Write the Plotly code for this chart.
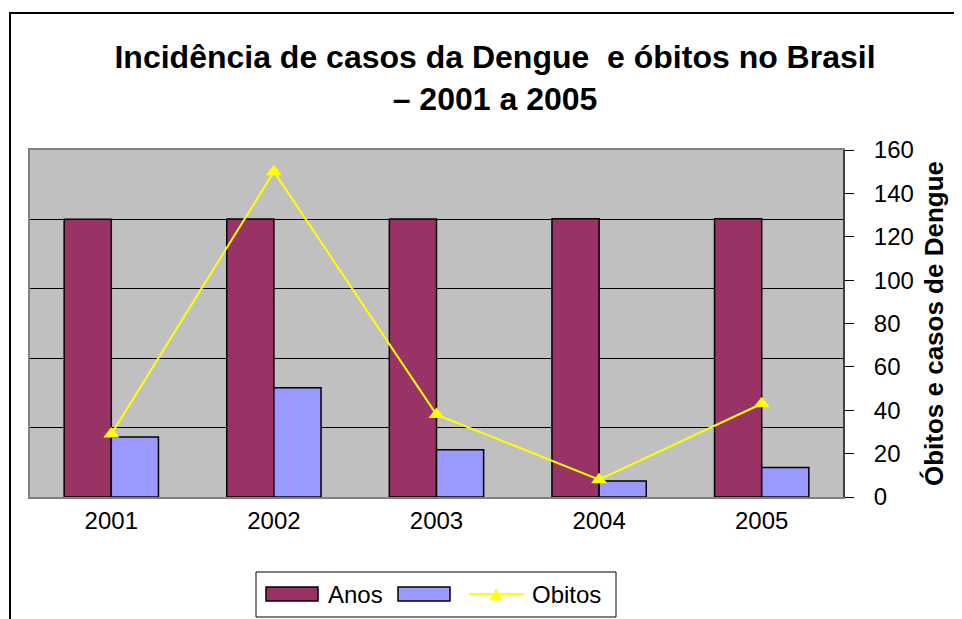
"""
Dengue incidence and deaths in Brazil, 2001-2005 (Excel-style combo chart).
"""

import plotly.graph_objects as go

# data
anos_labels = ['2001', '2002', '2003', '2004', '2005']
anos = [2001, 2002, 2003, 2004, 2005]           # series "Anos" (left axis)
casos = [433, 788, 341, 115, 213]               # dengue cases, thousands (left axis)
obitos = [29, 150, 38, 8, 43]                   # deaths (right axis)

font = 'Arial, Liberation Sans, sans-serif'

# plot area on the page in pixels: x 30..843, y 150..497
# (the page body adds an 8px offset, hence the margins below)
def px(x):
    return (x - 30) / 813

def py(y):
    return (497 - y) / 347


fig = go.Figure()
fig.add_trace(go.Bar(
    x=anos_labels, y=anos, name='Anos',
    marker=dict(color='#993366', line=dict(color='black', width=1.5)),
))
fig.add_trace(go.Bar(
    x=anos_labels, y=casos, name=' ',
    marker=dict(color='#9999FF', line=dict(color='black', width=1.5)),
))
fig.add_trace(go.Scatter(
    x=anos_labels, y=obitos, name='Obitos', yaxis='y2',
    mode='lines+markers',
    line=dict(color='#FFFF00', width=2),
    marker=dict(symbol='triangle-up', size=14, color='#FFFF00'),
))

# hand-drawn legend box (Excel style, wide swatches)
shapes = [
    dict(type='rect', x0=px(10), x1=px(990), y0=py(650), y1=py(13),
         line=dict(color='black', width=2)),
    dict(type='rect', x0=px(256), x1=px(616), y0=py(617), y1=py(572),
         line=dict(color='black', width=1), fillcolor='white'),
    dict(type='rect', x0=px(266), x1=px(318), y0=py(601), y1=py(587),
         line=dict(color='black', width=1.5), fillcolor='#993366'),
    dict(type='rect', x0=px(398), x1=px(450), y0=py(601), y1=py(587),
         line=dict(color='black', width=1.5), fillcolor='#9999FF'),
    dict(type='line', x0=px(469), x1=px(524), y0=py(594), y1=py(594),
         line=dict(color='#FFFF00', width=2)),
    dict(type='path',
         path=f'M {px(490)} {py(600)} L {px(502)} {py(600)} L {px(496)} {py(589)} Z',
         line=dict(color='#FFFF00', width=1), fillcolor='#FFFF00'),
]
for s in shapes:
    s.update(xref='paper', yref='paper')

annotations = [
    dict(text='Anos', x=px(326), y=py(594), xanchor='left', yanchor='middle',
         showarrow=False, font=dict(size=24)),
    dict(text='Obitos', x=px(530), y=py(594), xanchor='left', yanchor='middle',
         showarrow=False, font=dict(size=24)),
]
for a in annotations:
    a.update(xref='paper', yref='paper')

fig.update_layout(
    width=962, height=619,
    margin=dict(l=22, r=127, t=142, b=130),
    paper_bgcolor='white',
    plot_bgcolor='#C0C0C0',
    font=dict(family=font, color='black', size=24),
    barmode='group', bargap=0.42, bargroupgap=0,
    showlegend=False,
    title=dict(
        text='<b>Incidência de casos da Dengue  e óbitos no Brasil<br>– 2001 a 2005</b>',
        x=487 / 962, xanchor='center',
        y=1 - 60 / 619, yanchor='top',
        font=dict(family=font, size=32, color='black'),
    ),
    xaxis=dict(
        showgrid=False, ticks='', showline=True, linecolor='#808080', linewidth=2,
        mirror=True, tickfont=dict(size=24), ticklabelstandoff=1,
    ),
    yaxis=dict(
        range=[0, 2500], dtick=500, showticklabels=False,
        showgrid=True, gridcolor='black', gridwidth=1,
        showline=True, linecolor='#808080', linewidth=2, mirror=True,
        zeroline=False,
    ),
    yaxis2=dict(
        overlaying='y', side='right', range=[0, 160], dtick=20,
        showgrid=False, zeroline=False,
        showline=True, linecolor='#404040', linewidth=2,
        ticks='outside', ticklen=9, tickcolor='black', tickwidth=1,
        ticklabelstandoff=15, tickfont=dict(size=24),
        title=dict(text='<b>Óbitos e casos de Dengue</b>', font=dict(size=26), standoff=12),
    ),
    shapes=shapes,
    annotations=annotations,
)

fig.write_html('out.html')
